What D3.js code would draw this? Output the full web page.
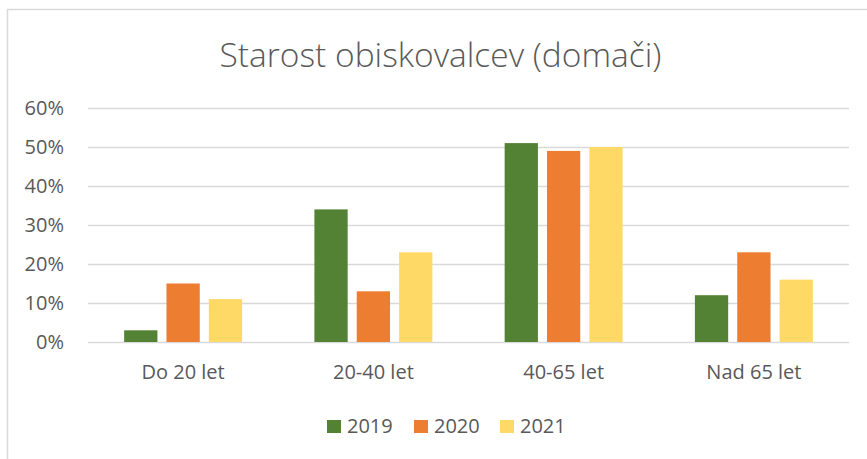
<!DOCTYPE html>
<html>
<head>
<meta charset="utf-8">
<script src="https://cdn.jsdelivr.net/npm/d3@7"></script>
<style>
  body { margin: 0; background: #fff; }
  svg { display: block; font-family: "Open Sans", sans-serif; }
</style>
</head>
<body>
<div id="chart"></div>
<script>
var categories = ["Do 20 let", "20-40 let", "40-65 let", "Nad 65 let"];
var years = ["2019", "2020", "2021"];
var values2019 = [0.03, 0.34, 0.51, 0.12];
var values2020 = [0.15, 0.13, 0.49, 0.23];
var values2021 = [0.11, 0.23, 0.50, 0.16];
var yTicks = [0, 0.1, 0.2, 0.3, 0.4, 0.5, 0.6];
var colors = ["#548235", "#ED7D31", "#FFD966"];

var seriesValues = [values2019, values2020, values2021];
var width = 867, height = 459;

var svg = d3.select("#chart").append("svg")
    .attr("width", width)
    .attr("height", height);

// chart frame (only left and top visible)
svg.append("path")
    .attr("d", "M7.5,459 V9.5 H867")
    .attr("fill", "none")
    .attr("stroke", "#d9d9d9")
    .attr("stroke-width", 1.5);

svg.append("text")
    .attr("x", 440.5)
    .attr("y", 67)
    .attr("text-anchor", "middle")
    .attr("fill", "#595959")
    .style("font-size", "33.5px")
    .style("font-weight", 300)
    .text("Starost obiskovalcev (domači)");

var x = d3.scaleBand()
    .domain(categories)
    .range([88, 849])
    .paddingInner(0.38)
    .paddingOuter(0.19);

var xInner = d3.scaleBand()
    .domain(years)
    .range([0, x.bandwidth()])
    .paddingInner(0.214);

var y = d3.scaleLinear()
    .domain([0, 0.6])
    .range([342, 108]);

// gridlines + y labels
var yAxis = d3.axisLeft(y)
    .tickValues(yTicks)
    .tickFormat(d3.format(".0%"))
    .tickSize(-(849 - 88))
    .tickPadding(24);

var gy = svg.append("g")
    .attr("transform", "translate(88,0)")
    .call(yAxis);
gy.select(".domain").remove();
gy.selectAll(".tick line")
    .attr("stroke", "#d9d9d9")
    .attr("stroke-width", 1.5);
gy.selectAll(".tick text")
    .attr("fill", "#595959")
    .style("font-size", "20px")
    .style("font-family", "Open Sans, sans-serif");

// bars
var groups = svg.append("g").selectAll("g")
    .data(categories)
    .join("g")
    .attr("transform", function(d) { return "translate(" + x(d) + ",0)"; });

groups.selectAll("rect")
    .data(function(d, i) {
        return years.map(function(yr, j) {
            return { year: yr, value: seriesValues[j][i], color: colors[j] };
        });
    })
    .join("rect")
    .attr("x", function(d) { return xInner(d.year); })
    .attr("width", xInner.bandwidth())
    .attr("y", function(d) { return y(d.value); })
    .attr("height", function(d) { return y(0) - y(d.value); })
    .attr("fill", function(d) { return d.color; });

// x axis labels
var xAxis = d3.axisBottom(x).tickSize(0).tickPadding(23);
var gx = svg.append("g")
    .attr("transform", "translate(0,342)")
    .call(xAxis);
gx.select(".domain").remove();
gx.selectAll(".tick text")
    .attr("fill", "#595959")
    .style("font-size", "20px")
    .style("font-family", "Open Sans, sans-serif");

// legend
var legendX = [327, 414, 500];
var legend = svg.append("g").selectAll("g")
    .data(years)
    .join("g")
    .attr("transform", function(d, i) { return "translate(" + legendX[i] + ",420)"; });
legend.append("rect")
    .attr("width", 14)
    .attr("height", 13)
    .attr("fill", function(d, i) { return colors[i]; });
legend.append("text")
    .attr("x", 20)
    .attr("y", 13)
    .attr("fill", "#595959")
    .style("font-size", "20px")
    .text(function(d) { return d; });
</script>
</body>
</html>
